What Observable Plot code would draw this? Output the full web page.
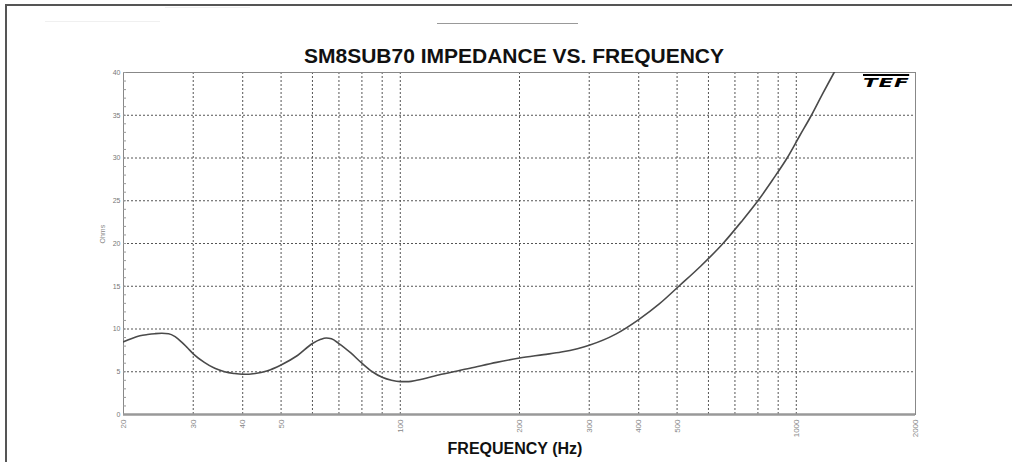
<!DOCTYPE html>
<html><head><meta charset="utf-8">
<script src="https://cdn.jsdelivr.net/npm/d3@7"></script>
<script src="https://cdn.jsdelivr.net/npm/@observablehq/plot@0.6"></script>
<style>
body{margin:0;background:#fff;font-family:"Liberation Sans",Arial,sans-serif}
#wrap{position:relative;width:1012px;height:462px;overflow:hidden;background:#fff}
.fl{position:absolute;background:#555}
#title{position:absolute;left:0;width:1028px;top:45px;text-align:center;font-weight:bold;font-size:21px;line-height:21px;color:#111}
#xlabel{position:absolute;left:0;width:1030px;top:441px;text-align:center;font-weight:bold;font-size:16px;line-height:16px;color:#111}
#chart{position:absolute;left:0;top:62px}
#tef{position:absolute;left:863px;top:74px;font-family:"DejaVu Sans",sans-serif;font-weight:900;font-style:italic;font-size:13px;line-height:13px;color:#000;transform:scaleX(1.65);transform-origin:left top;border-top:2px solid #000;letter-spacing:0.5px}
</style></head><body>
<div id="wrap">
  <div class="fl" style="left:5px;top:4px;width:1007px;height:2px"></div>
  <div class="fl" style="left:5px;top:4px;width:2px;height:458px"></div>
  <div class="fl" style="left:437px;top:23px;width:141px;height:1px;background:#999"></div>
  <div class="fl" style="left:45px;top:21px;width:115px;height:1px;background:#f0f0f0"></div>
  <div class="fl" style="left:165px;top:7px;width:85px;height:1px;background:#f0f0f0"></div>
  <div id="title">SM8SUB70 IMPEDANCE VS. FREQUENCY</div>
  <div id="chart"></div>
  <div id="tef">TEF</div>
  <div id="xlabel">FREQUENCY (Hz)</div>
</div>
<script>
// Impedance curve
const freqHz = [20,21,22,23,24,25,26,27,28,29,30,32,34,36,38,40,43,46,50,55,60,63,65,67,70,75,80,85,90,95,100,105,110,127,150,175,200,230,255,280,300,350,400,450,505,575,653,725,800,870,948,1020,1092,1165,1246,1300];
const ohms   = [8.5,8.9,9.2,9.35,9.45,9.5,9.45,9.1,8.5,7.8,7.1,6.1,5.4,5.0,4.8,4.7,4.8,5.1,5.8,6.9,8.3,8.8,8.95,8.85,8.3,7.2,6.0,5.0,4.35,4.0,3.85,3.85,4.0,4.7,5.4,6.1,6.6,7.0,7.3,7.7,8.1,9.4,11.1,12.9,15.0,17.4,20.0,22.5,25.0,27.4,30.0,32.6,35.0,37.5,40.0,41.6];

// Axes
const gridFreqs  = [20,30,40,50,60,70,80,90,100,200,300,400,500,600,700,800,900,1000,2000];
const labelFreqs = [20,30,40,50,70,100,200,300,400,500,700,1000,2000];
const majorOhms  = [0,5,10,15,20,25,30,35,40];
const minorOhms  = d3.range(0, 41, 1);

const data = freqHz.map((f, i) => ({f, z: ohms[i]}));

const chart = Plot.plot({
  width: 1012,
  height: 390,
  marginTop: 10,
  marginBottom: 38,
  marginLeft: 123,
  marginRight: 97,
  style: {background: "transparent", fontFamily: "'Liberation Sans', Arial, sans-serif"},
  x: {type: "log", domain: [20, 2000]},
  y: {domain: [0, 40]},
  marks: [
    Plot.ruleX(gridFreqs, {stroke: "#555", strokeWidth: 1, strokeDasharray: "2,2"}),
    Plot.ruleY(majorOhms, {stroke: "#555", strokeWidth: 1, strokeDasharray: "2,2"}),
    Plot.frame({stroke: "#888", strokeWidth: 1}),
    Plot.ruleY([0], {stroke: "#999", strokeWidth: 2.5}),
    Plot.axisY({ticks: minorOhms, tickSize: -3, tickFormat: () => "", stroke: "#999", label: null}),
    Plot.axisY({ticks: majorOhms, tickSize: 0, tickPadding: 3, fontSize: 7, fill: "#777", label: null}),
    Plot.axisX({ticks: labelFreqs, tickFormat: d => String(d), tickRotate: -90, tickSize: 0, tickPadding: 5, fontSize: 8, fill: "#888", label: null}),
    Plot.line(data, {x: "f", y: "z", curve: "monotone-x", stroke: "#4a4a4a", strokeWidth: 1.6, clip: true}),
    Plot.text(["Ohms"], {frameAnchor: "left", rotate: -90, dx: -21, fontSize: 7, fill: "#888"})
  ]
});
document.getElementById("chart").appendChild(chart);
</script>
</body></html>
